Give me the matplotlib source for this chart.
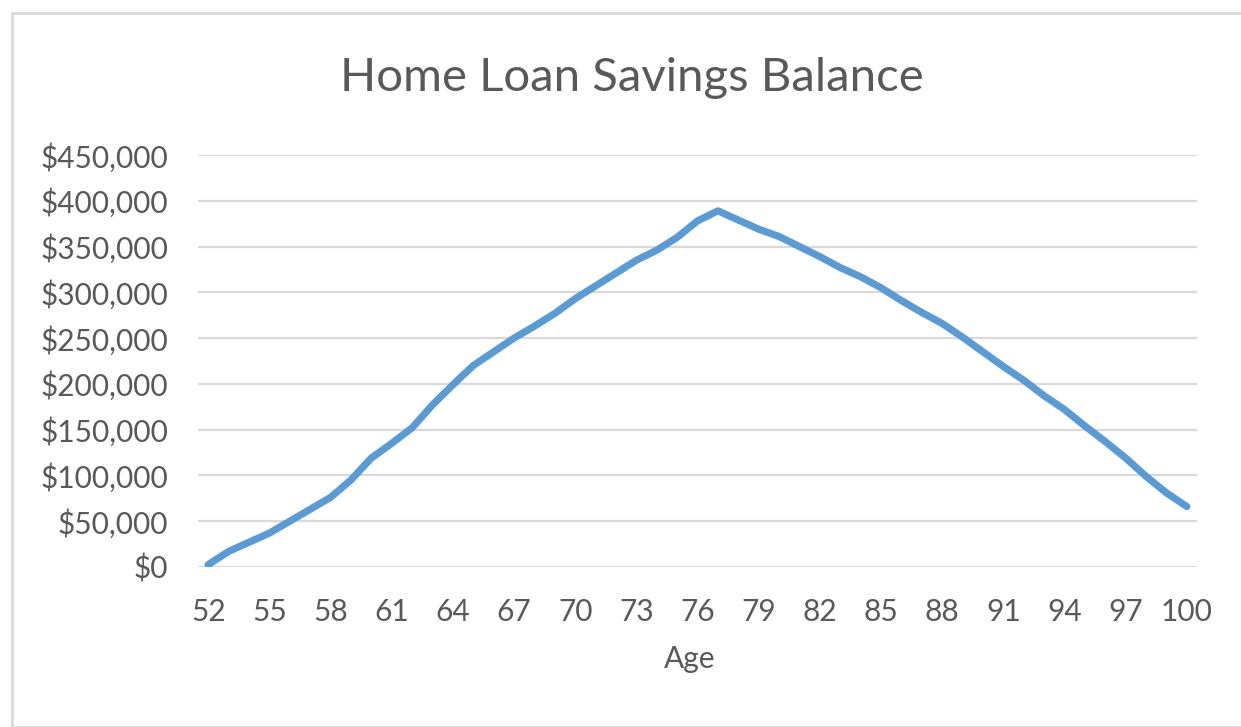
import matplotlib
matplotlib.use("Agg")
import matplotlib.pyplot as plt
from matplotlib.ticker import FuncFormatter
from matplotlib.patches import Rectangle

# Datos
edades = list(range(52, 101))
saldo = [2500, 17000, 27000, 37000, 50000, 63000, 76000, 95000, 119000, 135000,
         152000, 177000, 199000, 220000, 235000, 250000, 263000, 277000, 293000, 307000,
         321000, 335000, 346000, 360000, 378000, 389000, 379000, 369000, 361000, 350000,
         339000, 327000, 317000, 305000, 291000, 278000, 266000, 251000, 235000, 219000,
         204000, 187000, 172000, 154000, 137000, 119000, 99000, 81000, 66000]
ticks_x = list(range(52, 101, 3))
ticks_y = list(range(0, 450001, 50000))

plt.rcParams['font.family'] = ['Lato', 'DejaVu Sans']
gris = "#595959"

fig = plt.figure(figsize=(12.41, 7.27), dpi=100)
# marco del area del grafico
fig.patches.append(Rectangle((12/1241, 0), 1.2, 1 - 13/727, transform=fig.transFigure,
                             fill=False, edgecolor="#d9d9d9", linewidth=2))

ax = fig.add_axes([198/1241, 1 - 567/727, (1197-198)/1241, (567-155)/727])
ax.plot(edades, saldo, color="#5b9bd5", linewidth=5.2, solid_capstyle="round",
        solid_joinstyle="round", zorder=3)

ax.set_xlim(51.5, 100.5)
ax.set_ylim(0, 450000)
ax.set_xticks(ticks_x)
ax.set_yticks(ticks_y)
ax.yaxis.set_major_formatter(FuncFormatter(lambda v, p: "${:,.0f}".format(v)))
ax.grid(axis="y", color="#d9d9d9", linewidth=1.6)
ax.set_axisbelow(True)
for s in ax.spines.values():
    s.set_visible(False)
ax.tick_params(length=0, labelsize=21.5, labelcolor=gris)
ax.tick_params(axis="y", pad=21.5)
ax.tick_params(axis="x", pad=22)

ax.set_xlabel("Age", fontsize=21.5, color=gris, labelpad=14)
ax.xaxis.set_label_coords((690 - 198) / 999, -0.19)
fig.text(632/1241, 1 - 78/727, "Home Loan Savings Balance", ha="center", va="center",
         fontsize=34, color=gris)

fig.savefig("out.png", dpi=100)
